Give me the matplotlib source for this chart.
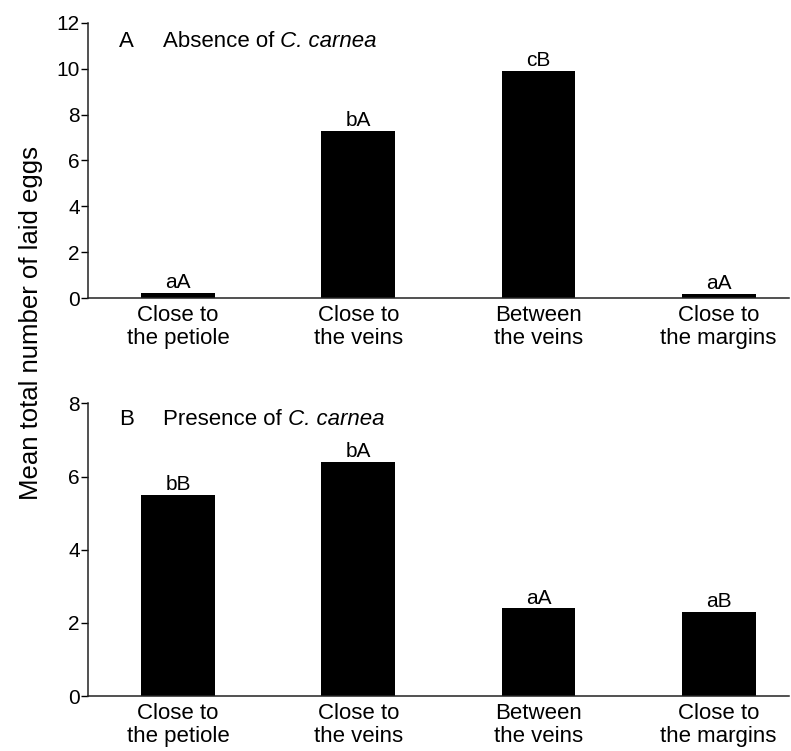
import numpy as np
import matplotlib.pyplot as plt

plt.rcParams['font.family'] = ['Liberation Sans', 'DejaVu Sans']

# data
sites = ["Close to\nthe petiole", "Close to\nthe veins", "Between\nthe veins", "Close to\nthe margins"]
absence = [0.25, 7.3, 9.9, 0.2]
absence_letters = ["aA", "bA", "cB", "aA"]
presence = [5.5, 6.4, 2.4, 2.3]
presence_letters = ["bB", "bA", "aA", "aB"]

fig = plt.figure(figsize=(7.91, 7.51), dpi=100)
ax1 = fig.add_axes([0.1113, 0.6028, 0.886, 0.367])
ax2 = fig.add_axes([0.1113, 0.0730, 0.886, 0.390])

x = np.arange(len(sites))

def panel(ax, vals, letters, ymax, yticks, tag, title, ty):
    ax.bar(x, vals, width=0.41, color="black")
    for xi, v, s in zip(x, vals, letters):
        ax.annotate(s, (xi, v), xytext=(0, 0.5), textcoords="offset points",
                    ha="center", va="bottom", fontsize=15)
    ax.set_xlim(-0.5, 3.39)
    ax.set_ylim(0, ymax)
    ax.set_yticks(yticks)
    ax.set_xticks(x)
    ax.set_xticklabels(sites, fontsize=16, linespacing=1.12)
    ax.tick_params(axis="x", length=0, pad=5)
    ax.tick_params(axis="y", length=4.8, width=1, pad=1, labelsize=15)
    for side in ["top", "right"]:
        ax.spines[side].set_visible(False)
    for side in ["left", "bottom"]:
        ax.spines[side].set_linewidth(1.1)
        ax.spines[side].set_color("#222222")
    ax.text(0.044, ty, tag, transform=ax.transAxes, fontsize=16, va="bottom")
    t = ax.text(0.107, ty, title, transform=ax.transAxes, fontsize=16, va="bottom")
    ax.annotate(" C. carnea", xy=(1, 0), xycoords=t, fontsize=16,
                style="italic", va="bottom", ha="left")

panel(ax1, absence, absence_letters, 12, [0, 2, 4, 6, 8, 10, 12], "A",
      "Absence of", 0.895)
panel(ax2, presence, presence_letters, 8, [0, 2, 4, 6, 8], "B",
      "Presence of", 0.91)

fig.text(0.039, 0.57, "Mean total number of laid eggs", rotation=90,
         ha="center", va="center", fontsize=18.5)

fig.savefig("out.png", dpi=100)
